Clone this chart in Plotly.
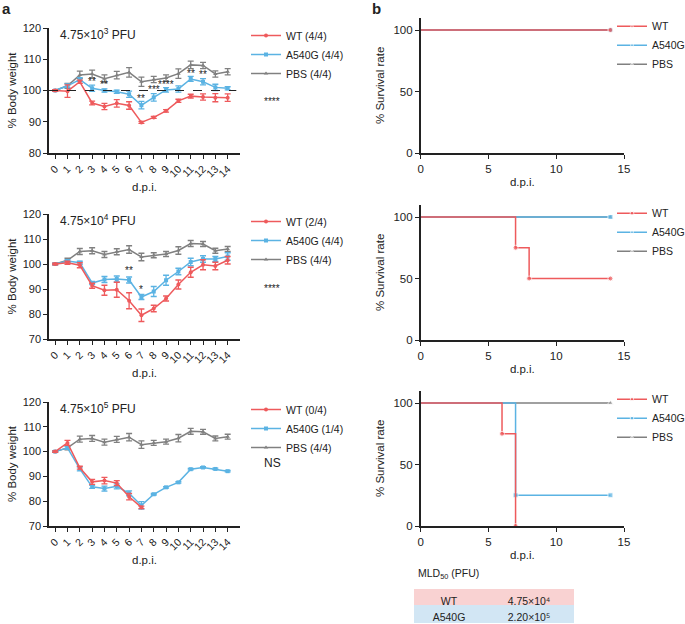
import plotly.graph_objects as go

days = list(range(15))

# Panel 1: 4.75x10^3 PFU
wt1 = [100, 99.8, 102.8, 96.0, 94.9, 95.9, 95.2, 89.8, 91.4, 93.5, 96.7, 98.2, 97.9, 97.7, 97.7]
wt1_err = [0.3, 2.0, 0.5, 0.6, 1.0, 1.2, 1.2, 0.3, 0.3, 0.4, 0.5, 0.6, 1.0, 1.3, 1.2]
a1 = [100, 101.5, 103.5, 100.7, 100.0, 99.6, 98.8, 95.3, 97.8, 100.2, 100.5, 103.7, 102.8, 101.0, 100.7]
a1_err = [0.3, 0.6, 0.6, 1.0, 0.5, 0.5, 1.0, 1.2, 1.2, 0.7, 1.0, 0.8, 1.0, 1.0, 0.5]

# Panel 2: 4.75x10^4 PFU
wt2 = [100, 100.5, 99.5, 91.3, 89.5, 89.7, 85.3, 79.5, 82.2, 86.2, 91.8, 96.7, 99.7, 99.2, 101.5]
wt2_err = [0.3, 0.6, 1.0, 1.0, 2.0, 3.0, 3.2, 2.5, 1.3, 1.0, 1.8, 2.0, 2.0, 1.5, 1.5]
a2 = [100, 101.2, 100.5, 92.4, 93.8, 94.0, 93.6, 86.8, 89.0, 93.5, 97.0, 100.8, 102.0, 102.0, 103.0]
a2_err = [0.3, 0.5, 0.6, 0.6, 1.2, 1.2, 1.2, 1.0, 2.0, 2.0, 1.3, 1.5, 1.3, 1.0, 1.5]

# Panel 3: 4.75x10^5 PFU
wt3_days = list(range(8))
wt3 = [100, 103.5, 93.5, 87.8, 88.3, 87.3, 81.8, 77.5]
wt3_err = [0.3, 1.0, 0.6, 1.0, 1.3, 1.0, 1.3, 0.5]
a3 = [100, 101.5, 93.0, 85.8, 85.1, 86.0, 83.2, 78.3, 82.8, 85.6, 87.6, 92.9, 93.6, 93.0, 92.1]
a3_err = [0.3, 0.5, 0.8, 0.6, 1.0, 1.0, 1.0, 1.5, 0.3, 0.3, 0.3, 0.3, 0.3, 0.3, 0.3]

# PBS control (same in all panels)
pbs = [100, 101.5, 105.0, 105.3, 103.8, 104.9, 105.8, 102.8, 103.5, 104.0, 105.4, 108.2, 108.0, 105.3, 106.0]
pbs_err = [0.3, 0.8, 1.2, 1.2, 1.2, 1.2, 1.5, 1.5, 1.0, 1.0, 1.5, 1.2, 1.0, 1.0, 1.0]

# Significance marks: (day, y, text)
sig1 = [(3, 103.0, "**"), (4, 102.0, "**"), (7, 97.5, "**"), (8, 100.4, "***"), (9, 101.9, "****"),
        (11, 105.5, "**"), (12, 105.0, "**")]
sig2 = [(6, 97.3, "**"), (7, 89.8, "*")]

# Survival curves
surv_wt = [([0, 14], [100, 100]), ([0, 7, 8, 14], [100, 75, 50, 50]), ([0, 6, 7], [100, 75, 0])]
surv_a = [([0, 14], [100, 100]), ([0, 14], [100, 100]), ([0, 7, 14], [100, 25, 25])]
surv_pbs = [([0, 14], [100, 100]), ([0, 14], [100, 100]), ([0, 14], [100, 100])]

doses = ["4.75×10<sup>3</sup> PFU", "4.75×10<sup>4</sup> PFU", "4.75×10<sup>5</sup> PFU"]
wt_names = ["WT (4/4)", "WT (2/4)", "WT (0/4)"]
a_names = ["A540G (4/4)", "A540G (4/4)", "A540G (1/4)"]
stat_text = ["****", "****", "NS"]

table_strain = ["WT", "A540G"]
table_mld = ["4.75×10⁴", "2.20×10⁵"]

RED = "#EE5A5C"
BLUE = "#5BB3E3"
GRAY = "#808080"
FONT = "Liberation Sans, Arial, DejaVu Sans, sans-serif"
W, H = 685, 624

fig = go.Figure()

def px_x(p):
    return p / W

def px_y(p):
    return 1 - p / H

left_x = [px_x(49), px_x(240)]
left_y = [(153, 28), (339, 214), (526, 402)]
right_x = [px_x(420.7), px_x(624)]
right_y = [(153, 17.7), (340, 204.7), (526, 390.7)]

wts = [(days, wt1, wt1_err), (days, wt2, wt2_err), (wt3_days, wt3, wt3_err)]
aas = [(a1, a1_err), (a2, a2_err), (a3, a3_err)]

layout = dict(
    width=W, height=H, margin=dict(l=0, r=0, t=0, b=0, autoexpand=False),
    plot_bgcolor="white", paper_bgcolor="white",
    font=dict(family=FONT, size=11, color="#222"),
    showlegend=True,
)

annotations = []
shapes = []

axis_common = dict(ticks="outside", ticklen=4, tickwidth=1.3, tickcolor="#222",
                   showline=True, linecolor="#222", linewidth=1.5, showgrid=False,
                   zeroline=False, automargin=False)

for i in range(3):
    xa = f"x{2*i+1}" if i > 0 else "x"
    ya = f"y{2*i+1}" if i > 0 else "y"
    leg = f"legend{2*i+1}" if i > 0 else "legend"
    ax_idx = 2 * i + 1
    xk = "xaxis" if ax_idx == 1 else f"xaxis{ax_idx}"
    yk = "yaxis" if ax_idx == 1 else f"yaxis{ax_idx}"
    ymin = 80 if i == 0 else 70
    d, wv, we = wts[i]
    av, ae = aas[i]
    fig.add_trace(go.Scatter(x=days, y=pbs, name="PBS (4/4)", mode="lines+markers",
                             line=dict(color=GRAY, width=1.5),
                             marker=dict(symbol="triangle-up", size=4, color=GRAY),
                             error_y=dict(type="data", array=pbs_err, color=GRAY, thickness=1.3, width=3),
                             xaxis=xa, yaxis=ya, legend=leg, legendrank=3))
    fig.add_trace(go.Scatter(x=days, y=av, name=a_names[i], mode="lines+markers",
                             line=dict(color=BLUE, width=1.5),
                             marker=dict(symbol="square", size=4, color=BLUE),
                             error_y=dict(type="data", array=ae, color=BLUE, thickness=1.3, width=3),
                             xaxis=xa, yaxis=ya, legend=leg, legendrank=2))
    fig.add_trace(go.Scatter(x=d, y=wv, name=wt_names[i], mode="lines+markers",
                             line=dict(color=RED, width=1.5),
                             marker=dict(symbol="circle", size=4, color=RED),
                             error_y=dict(type="data", array=we, color=RED, thickness=1.3, width=3),
                             xaxis=xa, yaxis=ya, legend=leg, legendrank=1))
    y0, y1 = left_y[i]
    layout[xk] = dict(domain=left_x, anchor=ya, range=[-0.5, 15], tickmode="array",
                      tickvals=days, ticktext=[str(v) for v in days], tickangle=-45,
                      tickfont=dict(size=10.5), title=dict(text="d.p.i.", font=dict(size=11.5), standoff=4),
                      **axis_common)
    layout[yk] = dict(domain=[px_y(y0), px_y(y1)], anchor=xa, range=[ymin, 120], dtick=10,
                      tickfont=dict(size=11), title=dict(text="% Body weight", font=dict(size=11.5), standoff=4),
                      **axis_common)
    layout[leg] = dict(x=px_x(246), y=px_y(y1 - 7), xanchor="left", yanchor="top",
                       bgcolor="rgba(0,0,0,0)", font=dict(size=10.5), tracegroupgap=0,
                       itemwidth=30)
    annotations.append(dict(text=doses[i], xref="paper", yref="paper", x=px_x(58), y=px_y(y1 + 6),
                            xanchor="left", yanchor="middle", showarrow=False, font=dict(size=12)))
    annotations.append(dict(text=stat_text[i], xref="paper", yref="paper", x=px_x(262),
                            y=px_y(y1 + (74 if i < 2 else 61)),
                            xanchor="left", yanchor="middle", showarrow=False,
                            font=dict(size=12 if i == 2 else 10, color="#222")))

# dashed line at 100 in panel 1
shapes.append(dict(type="line", xref="x", yref="y", x0=-0.5, x1=14.7, y0=100, y1=100,
                   line=dict(color="#222", width=1, dash="dash")))
for (dd, yy, tt) in sig1:
    annotations.append(dict(text=tt, x=dd, y=yy, xref="x", yref="y", showarrow=False,
                            font=dict(size=10), yanchor="middle"))
for (dd, yy, tt) in sig2:
    annotations.append(dict(text=tt, x=dd, y=yy, xref="x3", yref="y3", showarrow=False,
                            font=dict(size=10), yanchor="middle"))

for i in range(3):
    ax_idx = 2 * i + 2
    xa = f"x{ax_idx}"
    ya = f"y{ax_idx}"
    leg = f"legend{ax_idx}"
    xk = f"xaxis{ax_idx}"
    yk = f"yaxis{ax_idx}"
    series = [("PBS", surv_pbs[i], GRAY, "triangle-up", 3),
              ("A540G", surv_a[i], BLUE, "square", 2),
              ("WT", surv_wt[i], RED, "circle", 1)]
    for name, (sx, sy), col, sym, rank in series:
        sizes = [0] + [5] * (len(sx) - 1)
        fig.add_trace(go.Scatter(x=sx, y=sy, name=name, mode="lines+markers",
                                 line=dict(color=col, width=1.5, shape="hv"),
                                 marker=dict(symbol=sym, size=sizes, color=col),
                                 xaxis=xa, yaxis=ya, legend=leg, legendrank=rank))
    y0, y1 = right_y[i]
    layout[xk] = dict(domain=right_x, anchor=ya, range=[0, 15], tickvals=[0, 5, 10, 15],
                      tickfont=dict(size=11.5), title=dict(text="d.p.i.", font=dict(size=11.5), standoff=4),
                      **axis_common)
    layout[yk] = dict(domain=[px_y(y0), px_y(y1)], anchor=xa, range=[0, 110], tickvals=[0, 50, 100],
                      tickfont=dict(size=11.5), title=dict(text="% Survival rate", font=dict(size=11.5), standoff=6),
                      **axis_common)
    layout[leg] = dict(x=px_x(612), y=px_y(y1 - 6), xanchor="left", yanchor="top",
                       bgcolor="rgba(0,0,0,0)", font=dict(size=10.5), tracegroupgap=0,
                       itemwidth=30)

# MLD50 table (first row as header so no blank header is drawn)
TABLE_FONT = dict(size=10.5, color="#222", family="Liberation Sans")
fig.add_trace(go.Table(
    domain=dict(x=[px_x(414), px_x(574)], y=[0, px_y(589)]),
    columnwidth=[70, 90],
    header=dict(values=[table_strain[0], table_mld[0]], align="center", height=16,
                fill=dict(color="#F9D2D2"), line=dict(color="white", width=0),
                font=TABLE_FONT),
    cells=dict(values=[table_strain[1:], table_mld[1:]], align="center", height=18,
               fill=dict(color="#D2E6F4"), line=dict(color="white", width=0),
               font=TABLE_FONT),
))
annotations.append(dict(text="MLD<sub>50</sub> (PFU)", xref="paper", yref="paper", x=px_x(416), y=px_y(574),
                        xanchor="left", yanchor="middle", showarrow=False, font=dict(size=10.5)))

annotations.append(dict(text="<b>a</b>", xref="paper", yref="paper", x=px_x(0), y=px_y(9),
                        xanchor="left", yanchor="middle", showarrow=False, font=dict(size=15)))
annotations.append(dict(text="<b>b</b>", xref="paper", yref="paper", x=px_x(370), y=px_y(9),
                        xanchor="left", yanchor="middle", showarrow=False, font=dict(size=15)))

layout["annotations"] = annotations
layout["shapes"] = shapes
fig.update_layout(**layout)
fig.write_html("out.html", config={"displayModeBar": False},
               post_script="document.body.style.margin='0';")
